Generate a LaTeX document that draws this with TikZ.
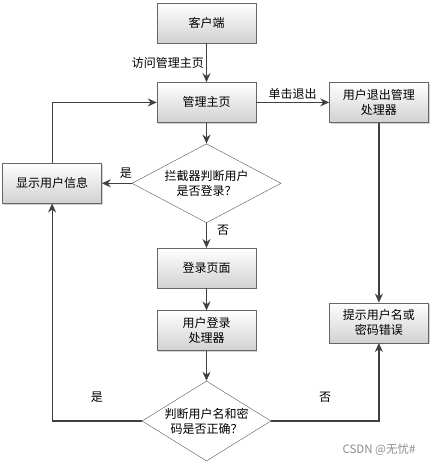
\documentclass[tikz,border=0pt]{standalone}
\usepackage{fontspec}
\setmainfont{Noto Sans CJK SC}
\usetikzlibrary{shapes.geometric, arrows.meta, positioning, calc, shadows}
\tikzstyle{process} = [rectangle, minimum width=99pt, minimum height=40pt, inner sep=0pt, align=center, draw=black!60, top color=white, bottom color=black!18, drop shadow={shadow xshift=1.2pt, shadow yshift=-1.2pt, fill=black!35}, node font=\fontsize{12}{15}\selectfont]
\tikzstyle{decision} = [diamond, inner sep=0pt, align=center, draw=black!65, fill=white, node font=\fontsize{12}{15}\selectfont]
\tikzstyle{arrow} = [line width=1.2pt, draw=black!75, -{Stealth[length=9pt, width=8pt]}]
\tikzstyle{lbl} = [font=\fontsize{12}{14}\selectfont, inner sep=2pt]

\begin{document}
\begin{tikzpicture}[x=1pt, y=1pt]
    \useasboundingbox (0,0) rectangle (435,-465);
    \node[process] (client) at (206.5,-23) {客户端};
    \node[process,below=39pt of client] (mainpage) {管理主页};
    \node[process,right=73pt of mainpage] (logout) {用户退出管理\\处理器};
    \node[decision,below=21pt of mainpage,minimum width=149pt,minimum height=79pt,aspect=1.89] (checklogin) {拦截器判断用户\\是否登录？};
    \node[process,left=30pt of checklogin] (showinfo) {显示用户信息};
    \node[process,below=25pt of checklogin] (loginpage) {登录页面};
    \node[process,below=22pt of loginpage] (loginhandler) {用户登录\\处理器};
    \node[decision,below=30pt of loginhandler,minimum width=129pt,minimum height=80pt,aspect=1.61] (checkpwd) {判断用户名和密\\码是否正确？};
    \node[process,below=180pt of logout] (pwderror) {提示用户名或\\密码错误};
    \node[text=black!45, font=\fontsize{11.5}{13}\selectfont] (mark) at (379,-450) {CSDN @无忧\#};

    \draw[arrow] (client) -- node[lbl,left] (lblvisit) {访问管理主页} (mainpage);
    \draw[arrow] (mainpage) -- node[lbl,above] (lblquit) {单击退出} (logout);
    \draw[arrow] (mainpage) -- (checklogin);
    \draw[arrow] (checklogin) -- node[lbl,above,pos=0.2,yshift=2pt] (lblyesa) {是} (showinfo);
    \draw[arrow] (checklogin) -- node[lbl,right=8pt,pos=0.3] (lblnoa) {否} (loginpage);
    \draw[arrow] (showinfo.north) |- (mainpage.west);
    \draw[arrow] (loginpage) -- (loginhandler);
    \draw[arrow] (loginhandler) -- (checkpwd);
    \draw[arrow] (checkpwd.west) -- node[lbl,above=16pt] (lblyesb) {是} (checkpwd.west -| showinfo.south) -- (showinfo.south);
    \draw[arrow] (checkpwd.east) -- node[lbl,above=16pt] (lblnob) {否} (checkpwd.east -| pwderror.south) -- (pwderror.south);
    \draw[arrow] (logout) -- (pwderror);
\end{tikzpicture}
\end{document}
